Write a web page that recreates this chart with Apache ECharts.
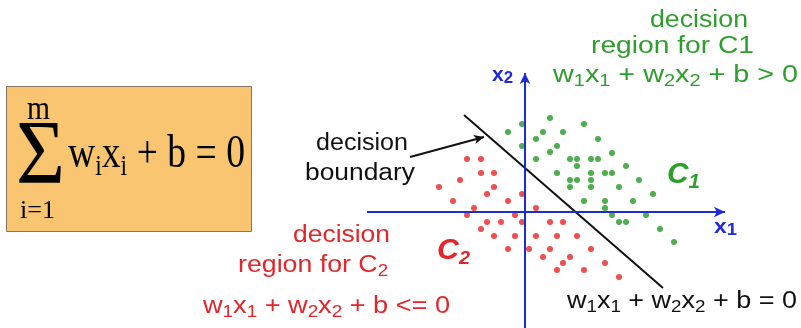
<!DOCTYPE html>
<html>
<head>
<meta charset="utf-8">
<script src="https://cdn.jsdelivr.net/npm/echarts@6/dist/echarts.min.js"></script>
<style>
html, body { margin: 0; padding: 0; background: #fff; }
#chart { width: 801px; height: 328px; }
</style>
</head>
<body>
<div id="chart"></div>
<script>
// feature space: x1 to the right, x2 up, origin where the two axes cross
var class1 = [
    [25, 94], [-3, 88], [59, 88], [-17, 80], [18, 80], [38, 80], [11, 73], [73, 73],
    [-3, 66], [32, 66], [25, 60], [87, 59], [11, 53], [45, 53], [52, 53], [66, 53],
    [73, 53], [52, 46], [101, 46], [32, 39], [66, 39], [80, 39], [87, 39], [45, 32],
    [52, 32], [66, 32], [114, 32], [45, 25], [66, 25], [94, 25], [128, 18], [59, 11],
    [80, 11], [108, 11], [80, 4], [87, -3], [121, -3], [94, -10], [101, -10],
    [135, -17], [149, -30]
];
var class2 = [
    [-58, 53], [-44, 53], [-44, 39], [-31, 39], [-65, 32], [-86, 25], [-31, 25],
    [-38, 18], [-3, 18], [-72, 11], [-17, 11], [-51, 4], [11, 4], [-58, -3], [-10, -3],
    [-38, -10], [-24, -10], [-3, -10], [25, -10], [38, -10], [-44, -17], [-31, -24],
    [-10, -24], [11, -24], [32, -24], [52, -24], [-17, -37], [4, -37], [25, -37],
    [66, -37], [18, -45], [45, -45], [38, -51], [80, -51], [32, -58], [59, -58], [94, -65]
];
var boundary = [[-61, 97], [138, -76]];
var axisX1 = [[-158, 0], [200, 0]];
var axisX2 = [[0, -116], [0, 139]];
var pointer = [[-115, 55], [-41, 75]];

var green = '#2e9e2e', red = '#e2262b', blue = '#1c2bd4', black = '#111';
var dotGreen = '#1f9a1f', dotRed = '#e82222';

// text helpers: "_" marks a one-character subscript
var ctx = document.createElement('canvas').getContext('2d');
function parts(str) {
    var out = [], buf = '';
    for (var i = 0; i < str.length; i++) {
        if (str[i] === '_') {
            if (buf) out.push(['m', buf]);
            buf = '';
            out.push(['s', str[i + 1]]);
            i++;
        } else {
            buf += str[i];
        }
    }
    if (buf) out.push(['m', buf]);
    return out;
}
function fontOf(o, size) {
    return (o.italic ? 'italic ' : '') + (o.bold ? 'bold ' : '') + size + 'px ' + o.family;
}
function tokenStyle(o, size, lh, va) {
    return {
        fontSize: size, fontFamily: o.family, fontWeight: o.bold ? 'bold' : 'normal',
        fontStyle: o.italic ? 'italic' : 'normal', fill: o.color, lineHeight: lh, verticalAlign: va
    };
}
function makeText(o) {
    var p = parts(o.text);
    var sub = o.sub || Math.round(o.size * 0.65), drop = o.drop || 0, k = o.k || 0.3465;
    var L = Math.round(o.size * 1.2);
    var mb = L / 2 + k * o.size;
    var sc = mb + drop - k * sub;
    var sL = 2 * (L - sc);
    var w = 0;
    p.forEach(function (t) {
        ctx.font = fontOf(o, t[0] === 'm' ? o.size : sub);
        w += ctx.measureText(t[1]).width;
    });
    return {
        type: 'text', x: o.x, y: o.y - mb, scaleX: o.w ? o.w / w : 1, silent: true, z: 10,
        style: {
            text: p.map(function (t) { return '{' + t[0] + '|' + t[1] + '}'; }).join(''),
            align: 'left', verticalAlign: 'top', fill: o.color,
            fontSize: o.size, fontFamily: o.family,
            rich: { m: tokenStyle(o, o.size, L, 'middle'), s: tokenStyle(o, sub, sL, 'bottom') }
        }
    };
}

var sans = 'Liberation Sans', serif = 'Liberation Serif';
var texts = [
    { text: 'decision', x: 650, y: 28.3, w: 98, color: green },
    { text: 'region for C1', x: 591, y: 55, w: 163, color: green },
    { text: 'w_1x_1 + w_2x_2 + b > 0', x: 553, y: 83.3, w: 245, color: green },
    { text: 'decision', x: 316, y: 151.7, w: 92, color: black },
    { text: 'boundary', x: 305, y: 181.7, w: 110, color: black },
    { text: 'decision', x: 293, y: 243.3, w: 97, color: red },
    { text: 'region for C_2', x: 238, y: 273.3, w: 150, color: red },
    { text: 'w_1x_1 + w_2x_2 + b <= 0', x: 203, y: 315, w: 247, color: red },
    { text: 'w_1x_1 + w_2x_2 + b = 0', x: 567, y: 309.3, w: 230, color: black },
    { text: 'C_1', x: 667, y: 185, w: 33, size: 29, sub: 20, drop: 6, bold: true, italic: true, color: green },
    { text: 'C_2', x: 437, y: 261, w: 33, size: 29, sub: 19, drop: 2, bold: true, italic: true, color: red },
    { text: 'x_2', x: 492, y: 82, w: 21, size: 20, sub: 16, drop: 6, bold: true, color: blue },
    { text: 'x_1', x: 714, y: 234, w: 23, size: 21, sub: 17, drop: 8, bold: true, color: blue },
    { text: '\u03a3', x: 16, y: 190, w: 49, size: 92, family: serif, k: 0.3375, color: '#000' },
    { text: 'm', x: 27, y: 121.7, w: 23, size: 34, family: serif, k: 0.3375, color: '#000' },
    { text: 'i=1', x: 20, y: 220, w: 35, size: 25, family: serif, k: 0.3375, color: '#000' },
    { text: 'w_ix_i + b = 0', x: 68, y: 170, w: 177, size: 46, sub: 29, drop: 8, family: serif, k: 0.3375, color: '#000' }
];

var graphics = [{
    type: 'rect', z: 0, silent: true,
    shape: { x: 6.5, y: 86.5, width: 245, height: 145 },
    style: { fill: '#fac571', stroke: '#85775f', lineWidth: 1 }
}];
texts.forEach(function (t) {
    t.family = t.family || sans;
    t.size = t.size || 23;
    if (!t.sub && t.family === sans && t.size === 23) { t.sub = 16; t.drop = 4; }
    graphics.push(makeText(t));
});

function arrowLine(pts, color, size) {
    return {
        type: 'line', data: [], z: 1,
        markLine: {
            silent: true, animation: false,
            symbol: ['none', 'arrow'], symbolSize: size,
            label: { show: false },
            lineStyle: { color: color, width: 2, type: 'solid' },
            data: [[{ coord: pts[0] }, { coord: pts[1] }]]
        }
    };
}

var myChart = echarts.init(document.getElementById('chart'));
var option = {
    animation: false,
    grid: { left: 0, right: 0, top: 0, bottom: 0 },
    xAxis: { type: 'value', min: -525, max: 276, show: false },
    yAxis: { type: 'value', min: -116, max: 212, show: false },
    graphic: graphics,
    series: [
        arrowLine(axisX1, blue, [8, 11]),
        arrowLine(axisX2, blue, [8, 11]),
        arrowLine(pointer, black, [7, 10]),
        {
            type: 'line', data: boundary, symbol: 'none', z: 2, silent: true,
            lineStyle: { color: black, width: 2 }
        },
        {
            type: 'scatter', data: class1, symbolSize: 6, z: 3, silent: true,
            itemStyle: { color: dotGreen }
        },
        {
            type: 'scatter', data: class2, symbolSize: 6, z: 3, silent: true,
            itemStyle: { color: dotRed }
        }
    ]
};
myChart.setOption(option);
</script>
</body>
</html>
